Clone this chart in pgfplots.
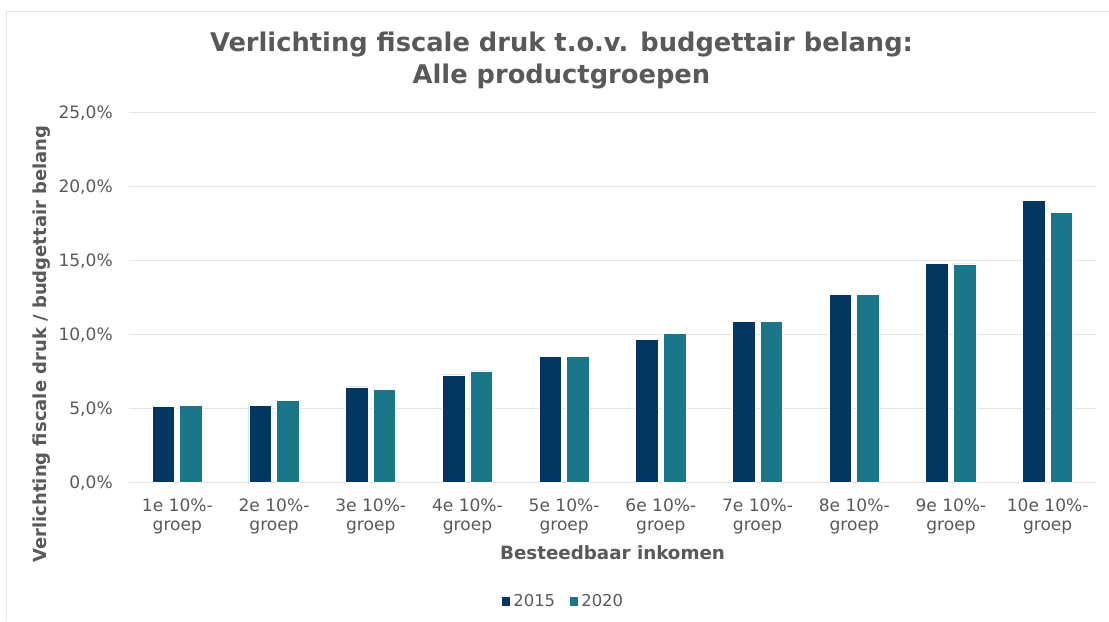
\documentclass[border=0pt]{standalone}
\usepackage{pgfplots}
\pgfplotsset{compat=1.18}
\usepackage{fontspec}
\setmainfont{DejaVu Sans}
\definecolor{cA}{HTML}{033660}
\definecolor{cB}{HTML}{1B7689}
\definecolor{txt}{HTML}{595959}
\definecolor{grd}{HTML}{E4E4E4}
\begin{document}
\begin{tikzpicture}
\path[use as bounding box] (0pt,0pt) rectangle (831.75pt,465.75pt);
\draw[color=grd, line width=0.75pt] (4.5pt,0pt) -- (4.5pt,456.75pt) -- (831.75pt,456.75pt);
\node[anchor=base, text=txt, font=\fontsize{19.3}{22}\selectfont\bfseries] at (421.1pt,427.3pt) {Verlichting fiscale druk t.o.v. budgettair belang:};
\node[anchor=base, text=txt, font=\fontsize{19.3}{22}\selectfont\bfseries] at (421.1pt,403.3pt) {Alle productgroepen};
\node[rotate=90, text=txt, font=\fontsize{13.5}{15}\selectfont\bfseries] at (31.5pt,207.75pt) {Verlichting fiscale druk / budgettair belang};
\node[anchor=base, text=txt, font=\fontsize{13.7}{16}\selectfont\bfseries] at (459.4pt,46.5pt) {Besteedbaar inkomen};
\begin{axis}[
  at={(96.75pt,103.7pt)}, anchor=south west,
  scale only axis, width=725.25pt, height=277.5pt,
  xmin=-0.5, xmax=9.5, ymin=0, ymax=25,
  axis line style={draw=none},
  ybar, bar width=17pt,
  xtick=data,
  xticklabels={{1e 10\%-\\groep},{2e 10\%-\\groep},{3e 10\%-\\groep},{4e 10\%-\\groep},{5e 10\%-\\groep},{6e 10\%-\\groep},{7e 10\%-\\groep},{8e 10\%-\\groep},{9e 10\%-\\groep},{10e 10\%-\\groep}},
  ytick={0,5,10,15,20,25},
  yticklabels={{0,0\%},{5,0\%},{10,0\%},{15,0\%},{20,0\%},{25,0\%}},
  major tick length=0pt,
  ymajorgrids, grid style={color=grd, line width=0.9pt},
  yticklabel style={anchor=east, inner sep=0pt, xshift=-12pt, text=txt, font=\fontsize{12.8}{14.3}\selectfont},
  xticklabel style={anchor=north, inner sep=0pt, yshift=-12pt, align=center, text=txt, font=\fontsize{12.8}{14.3}\selectfont},
  legend columns=2,
  legend style={draw=none, fill=none, at={(0.449,-0.322)}, anchor=center, font=\fontsize{12.3}{14}\selectfont, text=txt,
    /tikz/every even column/.append style={column sep=8pt}},
  legend image code/.code={\fill[#1] (0pt,-3.3pt) rectangle (7pt,3.9pt);},
]
\addplot[fill=cA, draw=white, line width=0.6pt, bar shift=-10.35pt] coordinates {
(0,5.18) (1,5.23) (2,6.47) (3,7.28) (4,8.56) (5,9.69) (6,10.90) (7,12.73) (8,14.80) (9,19.10)};
\addplot[fill=cB, draw=white, line width=0.6pt, bar shift=10.35pt] coordinates {
(0,5.23) (1,5.57) (2,6.33) (3,7.55) (4,8.52) (5,10.09) (6,10.88) (7,12.71) (8,14.78) (9,18.27)};
\legend{2015,2020}
\end{axis}
\end{tikzpicture}
\end{document}
